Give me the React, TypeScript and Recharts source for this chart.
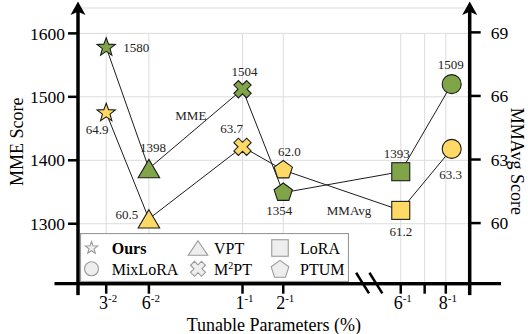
import React from 'react';
import {
  ComposedChart,
  Line,
  XAxis,
  YAxis,
  CartesianGrid,
  ReferenceLine,
  ReferenceDot,
  LabelList,
  Legend,
  Label,
} from 'recharts';

// ---------------- data ----------------
const methods = ['Ours', 'VPT', 'M2PT', 'PTUM', 'LoRA', 'MixLoRA'];
const paramPos = [7.2, 18.1, 42.0, 52.4, 82.4, 95.4];
const mmeScores = [1578, 1387, 1512, 1349, 1382, 1520];
const mmavgScores = [65.2, 60.2, 63.6, 62.5, 60.6, 63.5];
const mmeLabels = ['1580', '1398', '1504', '1354', '1393', '1509'];
const mmavgLabels = ['64.9', '60.5', '63.7', '62.0', '61.2', '63.3'];

const xTickPos = [7.2, 18.1, 42.0, 52.4, 82.4, 88.5, 93.9];
const xTickBase = ['3', '6', '1', '2', '6', '', '8'];
const xTickExp = ['-2', '-2', '-1', '-1', '-1', '', '-1'];

const mmeTicks = [1300, 1400, 1500, 1600];
const mmavgTicks = [60, 63, 66, 69];

const legendOrder = ['Ours', 'VPT', 'LoRA', 'MixLoRA', 'M2PT', 'PTUM'];

// ---------------- styling config ----------------
const FONT = "'Liberation Serif', 'Times New Roman', 'DejaVu Serif', serif";
const GREEN = '#80a548';
const YELLOW = '#ffd965';
const EDGE = '#1c1c1c';
const GRID = '#dcdcdc';

const X_DOMAIN: [number, number] = [0, 100];
const L_DOMAIN: [number, number] = [1205.5, 1640];
const R_DOMAIN: [number, number] = [57.14, 70.15];

const shapeOf: Record<string, string> = {
  Ours: 'star',
  VPT: 'triangle',
  M2PT: 'cross',
  PTUM: 'pentagon',
  LoRA: 'square',
  MixLoRA: 'circle',
};

const mmeLabelOffset = [
  [30, 0],
  [4, -21],
  [2, -18],
  [-4, 17.5],
  [-4, -18],
  [-1, -20],
];
const mmavgLabelOffset = [
  [-9, 17],
  [-22, -4.5],
  [-11, -18],
  [6, -18.5],
  [0, 21],
  [-1, 25.5],
];

const data = methods.map((m, i) => ({
  method: m,
  x: paramPos[i],
  mme: mmeScores[i],
  mmavg: mmavgScores[i],
  mmeLabel: mmeLabels[i],
  mmavgLabel: mmavgLabels[i],
}));

// ---------------- markers ----------------
type Dims = { circle: number; square: number; triW: number; triH: number; starR: number; starr: number; pentR: number; crossR: number; crossA: number };
const DATA_DIMS: Dims = { circle: 9.5, square: 18, triW: 21.5, triH: 18.3, starR: 9.6, starr: 4.0, pentR: 9.6, crossR: 9, crossA: 3.2 };
const LEGEND_DIMS: Dims = { circle: 7, square: 16.5, triW: 19.5, triH: 14.5, starR: 6.5, starr: 2.7, pentR: 9.3, crossR: 7.8, crossA: 2.8 };

function pts(list: number[][]) {
  return list.map((p) => `${p[0].toFixed(2)},${p[1].toFixed(2)}`).join(' ');
}

function Marker({ shape, cx, cy, dims, fill, stroke, sw }: { shape: string; cx: number; cy: number; dims: Dims; fill: string; stroke: string; sw: number }) {
  const common = { fill, stroke, strokeWidth: sw, strokeLinejoin: 'miter' as const };
  if (shape === 'circle') return <circle cx={cx} cy={cy} r={dims.circle} {...common} />;
  if (shape === 'square') {
    const s = dims.square;
    return <rect x={cx - s / 2} y={cy - s / 2} width={s} height={s} {...common} />;
  }
  if (shape === 'triangle') {
    const w = dims.triW / 2;
    const h = dims.triH / 2;
    return <polygon points={pts([[cx, cy - h], [cx + w, cy + h], [cx - w, cy + h]])} {...common} />;
  }
  if (shape === 'star') {
    const list: number[][] = [];
    for (let k = 0; k < 10; k++) {
      const r = k % 2 === 0 ? dims.starR : dims.starr;
      const a = (-90 + k * 36) * (Math.PI / 180);
      list.push([cx + r * Math.cos(a), cy + r * Math.sin(a)]);
    }
    return <polygon points={pts(list)} {...common} />;
  }
  if (shape === 'pentagon') {
    const list: number[][] = [];
    for (let k = 0; k < 5; k++) {
      const a = (-90 + k * 72) * (Math.PI / 180);
      list.push([cx + dims.pentR * Math.cos(a), cy + dims.pentR * Math.sin(a)]);
    }
    return <polygon points={pts(list)} {...common} />;
  }
  const R = dims.crossR;
  const a = dims.crossA;
  const base = [
    [-a, -R], [a, -R], [a, -a], [R, -a], [R, a], [a, a],
    [a, R], [-a, R], [-a, a], [-R, a], [-R, -a], [-a, -a],
  ];
  const c = Math.SQRT1_2;
  const rot = base.map(([x, y]) => [cx + x * c - y * c, cy + x * c + y * c]);
  return <polygon points={pts(rot)} {...common} />;
}

const makeDot = (fill: string) => (props: any) => {
  const { cx, cy, index } = props;
  if (cx == null || cy == null) return <g key={`d-${index}`} />;
  return (
    <g key={`d-${fill}-${index}`}>
      <Marker shape={shapeOf[methods[index]]} cx={cx} cy={cy} dims={DATA_DIMS} fill={fill} stroke={EDGE} sw={1.1} />
    </g>
  );
};

const makeLabel = (offsets: number[][]) => (props: any) => {
  const { index, value } = props;
  const x = props.x ?? props.viewBox?.x;
  const y = props.y ?? props.viewBox?.y;
  if (x == null || y == null) return null;
  const off = offsets[index] || [0, -15];
  return (
    <text
      key={`l-${index}-${value}`}
      x={x + off[0]}
      y={y + off[1]}
      textAnchor="middle"
      dominantBaseline="central"
      fontSize={13}
      fontFamily={FONT}
      fill="#222"
    >
      {value}
    </text>
  );
};

// ---------------- ticks & titles ----------------
const XTick = (props: any) => {
  const { x, y, payload } = props;
  const i = xTickPos.indexOf(payload.value);
  if (i < 0 || !xTickBase[i]) return <g />;
  return (
    <text x={x + 2} y={y + 13.3} textAnchor="middle" fontFamily={FONT} fill="#000">
      <tspan fontSize={18}>{xTickBase[i]}</tspan>
      <tspan fontSize={11} dy={-7}>
        {xTickExp[i]}
      </tspan>
    </text>
  );
};

const LeftTitle = (props: any) => {
  const vb = props.viewBox || { x: 77, y: 8, width: 1, height: 275.7 };
  const x = vb.x + vb.width - 55;
  const y = vb.y + vb.height / 2 - 4;
  return (
    <text x={x} y={y} transform={`rotate(-90 ${x} ${y})`} textAnchor="middle" fontSize={18} fontFamily={FONT} fill="#000">
      MME Score
    </text>
  );
};

const RightTitle = (props: any) => {
  const vb = props.viewBox || { x: 469.7, y: 8, width: 1, height: 275.7 };
  const x = vb.x + 41;
  const y = vb.y + vb.height / 2 + 15.6;
  return (
    <text x={x} y={y} transform={`rotate(90 ${x} ${y})`} textAnchor="middle" fontSize={18} fontFamily={FONT} fill="#000">
      MMAvg Score
    </text>
  );
};

const XTitle = (props: any) => {
  const vb = props.viewBox || { x: 78, y: 283.7, width: 391.7, height: 1 };
  const x = vb.x + vb.width / 2;
  const y = vb.y + 46.8;
  return (
    <text x={x} y={y} textAnchor="middle" fontSize={18} fontFamily={FONT} fill="#000">
      Tunable Parameters (%)
    </text>
  );
};

const Arrow = (props: any) => {
  const { cx, cy } = props;
  if (cx == null || cy == null) return <g />;
  return <polygon points={pts([[cx, cy - 6.5], [cx + 7.5, cy + 7], [cx, cy + 3.8], [cx - 7.5, cy + 7]])} fill="#000" />;
};

const TextMark = (text: string) => (props: any) => {
  const { cx, cy } = props;
  if (cx == null || cy == null) return <g />;
  return (
    <text x={cx} y={cy} textAnchor="middle" dominantBaseline="central" fontSize={13} fontFamily={FONT} fill="#222">
      {text}
    </text>
  );
};

// ---------------- legend ----------------
const legendIconX = [11.5, 118, 200];
const legendTextX = [31.7, 134, 220];
const legendRowY = [15, 35.8];
const legendBaseY = [20.5, 42];

const LegendBox = () => (
  <div style={{ width: 269, height: 49, position: 'relative' }}>
    <svg width={269} height={49} style={{ position: 'absolute', left: 0, top: 0 }}>
      <rect x={0.5} y={0.5} width={268} height={48} fill="#fff" stroke="#999" strokeWidth={1.2} />
      {legendOrder.map((m, k) => {
        const col = k % 3;
        const row = Math.floor(k / 3);
        const shape = shapeOf[m];
        const cy = legendRowY[row] + (shape === 'pentagon' ? 0.9 : 0);
        return (
          <g key={m}>
            <Marker shape={shape} cx={legendIconX[col]} cy={cy} dims={LEGEND_DIMS} fill="#eeeeee" stroke="#9a9a9a" sw={1.1} />
            <text
              x={legendTextX[col]}
              y={legendBaseY[row]}
              fontSize={16}
              fontFamily={FONT}
              fill="#000"
              fontWeight={m === 'Ours' ? 'bold' : 'normal'}
            >
              {m === 'M2PT' ? (
                <>
                  M<tspan fontSize={10} dy={-6}>2</tspan>
                  <tspan dy={6}>PT</tspan>
                </>
              ) : (
                m
              )}
            </text>
          </g>
        );
      })}
    </svg>
  </div>
);

// ---------------- chart ----------------
export default function App() {
  const axisLine = { stroke: '#000', strokeWidth: 3.5 };
  const tickLine = { stroke: '#000', strokeWidth: 2.5 };
  return (
    <div style={{ position: 'absolute', left: 0, top: 0, width: 528, height: 334, background: '#fff' }}>
      <ComposedChart width={528} height={334} data={data} margin={{ top: 8, right: 57.3, bottom: 49.3, left: 77 }}>
        <CartesianGrid yAxisId="left" vertical={false} stroke={GRID} strokeWidth={1} />
        <XAxis
          dataKey="x"
          type="number"
          domain={X_DOMAIN}
          ticks={xTickPos}
          interval={0}
          allowDataOverflow
          height={1}
          tickSize={10}
          tick={XTick}
          axisLine={{ stroke: '#000', strokeWidth: 3.3 }}
          tickLine={tickLine}
        >
          <Label content={XTitle} />
        </XAxis>
        <YAxis
          yAxisId="left"
          domain={L_DOMAIN}
          ticks={mmeTicks}
          interval={0}
          allowDataOverflow
          width={1}
          tickSize={10}
          tickMargin={3}
          tick={{ fill: '#000', fontSize: 17.5, fontFamily: FONT }}
          axisLine={axisLine}
          tickLine={tickLine}
        >
          <Label content={LeftTitle} />
        </YAxis>
        <YAxis
          yAxisId="right"
          orientation="right"
          domain={R_DOMAIN}
          ticks={mmavgTicks}
          interval={0}
          allowDataOverflow
          width={1}
          tickSize={11}
          tickMargin={10}
          tick={{ fill: '#000', fontSize: 17.5, fontFamily: FONT }}
          axisLine={axisLine}
          tickLine={tickLine}
        >
          <Label content={RightTitle} />
        </YAxis>

        {xTickPos.map((t) => (
          <ReferenceLine
            key={`vg-${t}`}
            yAxisId="left"
            ifOverflow="visible"
            segment={[{ x: t, y: L_DOMAIN[0] }, { x: t, y: 1600 }]}
            stroke={GRID}
            strokeWidth={1}
          />
        ))}

        <ReferenceLine yAxisId="left" ifOverflow="visible" segment={[{ x: -6, y: L_DOMAIN[0] }, { x: 108, y: L_DOMAIN[0] }]} stroke="#000" strokeWidth={3.3} />
        <ReferenceLine yAxisId="left" ifOverflow="visible" segment={[{ x: 0, y: L_DOMAIN[0] }, { x: 0, y: 1187.5 }]} stroke="#000" strokeWidth={3.5} />
        <ReferenceLine yAxisId="left" ifOverflow="visible" segment={[{ x: 100, y: L_DOMAIN[0] }, { x: 100, y: 1187.5 }]} stroke="#000" strokeWidth={3.5} />
        <ReferenceLine yAxisId="left" ifOverflow="visible" segment={[{ x: 71.0, y: 1222.8 }, { x: 74.3, y: 1190.3 }]} stroke="#000" strokeWidth={2.5} />
        <ReferenceLine yAxisId="left" ifOverflow="visible" segment={[{ x: 74.4, y: 1222.8 }, { x: 77.7, y: 1190.3 }]} stroke="#000" strokeWidth={2.5} />

        <Line
          yAxisId="left"
          dataKey="mme"
          type="linear"
          stroke={EDGE}
          strokeWidth={1}
          dot={makeDot(GREEN)}
          activeDot={false}
          isAnimationActive={false}
        >
          <LabelList dataKey="mmeLabel" content={makeLabel(mmeLabelOffset)} />
        </Line>
        <Line
          yAxisId="right"
          dataKey="mmavg"
          type="linear"
          stroke={EDGE}
          strokeWidth={1}
          dot={makeDot(YELLOW)}
          activeDot={false}
          isAnimationActive={false}
        >
          <LabelList dataKey="mmavgLabel" content={makeLabel(mmavgLabelOffset)} />
        </Line>

        <ReferenceDot yAxisId="left" x={28.8} y={1471.3} r={0} ifOverflow="visible" shape={TextMark('MME')} />
        <ReferenceDot yAxisId="left" x={69.2} y={1321.1} r={0} ifOverflow="visible" shape={TextMark('MMAvg')} />

        <ReferenceDot yAxisId="left" x={0} y={L_DOMAIN[1]} r={0} ifOverflow="visible" shape={Arrow} />
        <ReferenceDot yAxisId="left" x={100} y={L_DOMAIN[1]} r={0} ifOverflow="visible" shape={Arrow} />

        <Legend
          layout="vertical"
          align="center"
          verticalAlign="middle"
          content={LegendBox}
          wrapperStyle={{ position: 'absolute', left: 80, top: 233, width: 269, height: 49, bottom: 'auto', right: 'auto', margin: 0, padding: 0 }}
        />
      </ComposedChart>
    </div>
  );
}
